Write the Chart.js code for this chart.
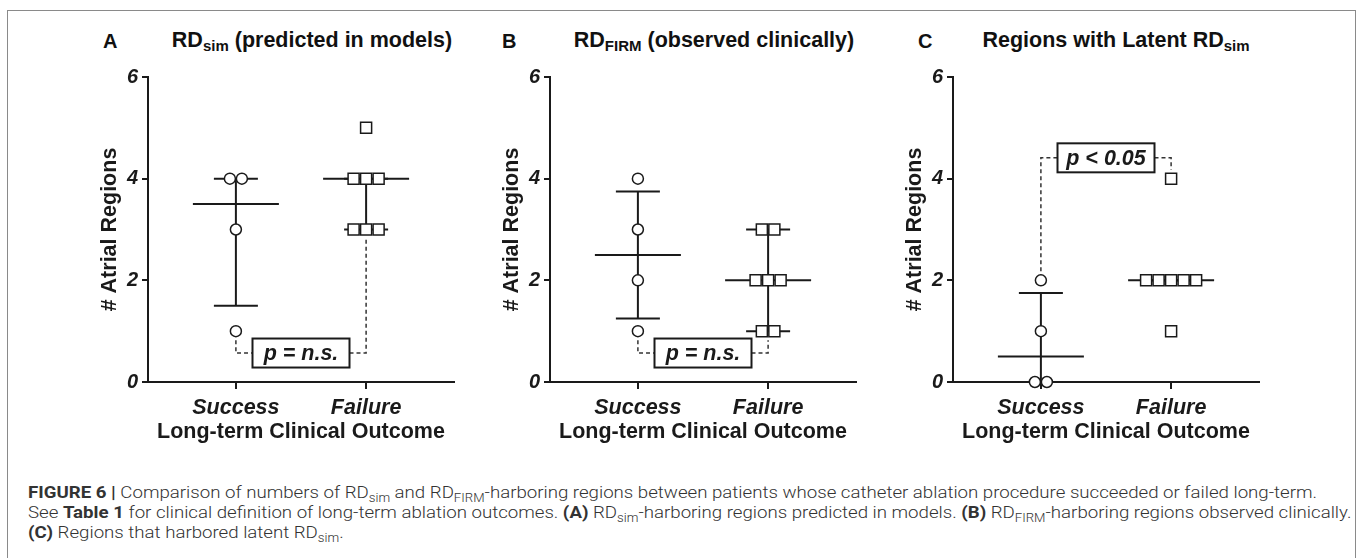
<!DOCTYPE html>
<html>
<head>
<meta charset="utf-8">
<script src="https://cdn.jsdelivr.net/npm/chart.js@4.4.1/dist/chart.umd.min.js"></script>
<style>
  body { margin:0; width:1357px; height:558px; background:#fff; position:relative; overflow:hidden; font-family:"Liberation Sans", Arial, sans-serif; }
  .frame { position:absolute; left:7px; top:10px; width:1349px; height:600px; border:1px solid #8a8a8a; box-sizing:border-box; }
  .panel { position:absolute; top:57px; }
  .letter { position:absolute; top:31px; font:bold 20px/20px "Liberation Sans", Arial, sans-serif; color:#111; }
  .title { position:absolute; top:30px; font:bold 21.5px/21.5px "Liberation Sans", Arial, sans-serif; color:#111; transform:translateX(-50%); white-space:nowrap; }
  .title sub { font-size:15px; vertical-align:-4px; line-height:0; }
  .caption { position:absolute; left:28px; top:482px; font:300 17px/20px Roboto, "Liberation Sans", sans-serif; color:#333; white-space:nowrap; transform-origin:0 0; }
  .caption span { display:inline-block; }
  .caption b { font-weight:700; }
  .caption sub { font-size:12px; vertical-align:-4px; line-height:0; }
</style>
</head>
<body>
<div class="frame"></div>

<div class="letter" style="left:103px">A</div>
<div class="title" style="left:312px">RD<sub>sim</sub> (predicted in models)</div>
<div class="letter" style="left:502px">B</div>
<div class="title" style="left:714px">RD<sub>FIRM</sub> (observed clinically)</div>
<div class="letter" style="left:918px">C</div>
<div class="title" style="left:1116px">Regions with Latent RD<sub>sim</sub></div>

<canvas class="panel" id="panelA" width="376" height="395" style="left:88px"></canvas>
<canvas class="panel" id="panelB" width="376" height="395" style="left:490px"></canvas>
<canvas class="panel" id="panelC" width="376" height="395" style="left:893px"></canvas>

<div class="caption" id="caption"><span id="capLine1"><b>FIGURE 6 |</b> Comparison of numbers of RD<sub>sim</sub> and RD<sub>FIRM</sub>-harboring regions between patients whose catheter ablation procedure succeeded or failed long-term.</span><br><span>See <b>Table 1</b> for clinical definition of long-term ablation outcomes. <b>(A)</b> RD<sub>sim</sub>-harboring regions predicted in models. <b>(B)</b> RD<sub>FIRM</sub>-harboring regions observed clinically.</span><br><span><b>(C)</b> Regions that harbored latent RD<sub>sim</sub>.</span></div>

<script>
// ===== DATA =====
const categories = ['Success', 'Failure'];
const yTicks = [0, 2, 4, 6];

// A: RDsim predicted in models
const simSuccess = [4, 4, 3, 1];
const simFailure = [5, 4, 4, 4, 3, 3, 3];
const simMedian = [3.5, 4];
const simQ1 = [1.5, 3];
const simQ3 = [4, 4];

// B: RDFIRM observed clinically
const firmSuccess = [4, 3, 2, 1];
const firmFailure = [3, 3, 2, 2, 2, 1, 1];
const firmMedian = [2.5, 2];
const firmQ1 = [1.25, 1];
const firmQ3 = [3.75, 3];

// C: regions with latent RDsim
const latentSuccess = [2, 1, 0, 0];
const latentFailure = [4, 2, 2, 2, 2, 2, 1];
const latentMedian = [0.5, 2];
const latentQ1 = [0, 2];
const latentQ3 = [1.75, 2];

const pLabels = ['p = n.s.', 'p = n.s.', 'p < 0.05'];
const bracketLevels = [0.57, 0.57, 4.41];

const INK = '#1a1a1a';
const FAMILY = '"Liberation Sans", Arial, sans-serif';
const tickFont = { family: FAMILY, size: 20, weight: 'bold', style: 'italic' };
const catFont = { family: FAMILY, size: 21.5, weight: 'bold', style: 'italic' };
const bold = { family: FAMILY, size: 21.5, weight: 'bold' };

// caption is set in a narrower font than the original: stretch it to the same line length
function fitCaption() {
  const cap = document.getElementById('caption');
  cap.style.transform = 'none';
  const w = document.getElementById('capLine1').getBoundingClientRect().width;
  if (w > 0) cap.style.transform = 'scaleX(' + (1289 / w) + ')';
}
fitCaption();
if (document.fonts) document.fonts.ready.then(fitCaption);

// spread equal values side by side (Prism-style scatter)
function spread(values, cat, step) {
  const counts = {}, seen = {};
  values.forEach(v => { counts[v] = (counts[v] || 0) + 1; });
  return values.map(v => {
    seen[v] = seen[v] === undefined ? 0 : seen[v] + 1;
    return { x: cat + (seen[v] - (counts[v] - 1) / 2) * step, y: v };
  });
}

// median + interquartile bars behind the points, dashed p-value bracket on top
const statsPlugin = {
  id: 'stats',
  beforeDatasetsDraw(chart, args, o) {
    const { ctx, scales: { x, y } } = chart;
    ctx.save();
    ctx.strokeStyle = INK; ctx.lineWidth = 2;
    const h = (cx, v, w) => { const py = y.getPixelForValue(v); ctx.beginPath(); ctx.moveTo(cx - w, py); ctx.lineTo(cx + w, py); ctx.stroke(); };
    o.median.forEach((m, i) => {
      const cx = x.getPixelForValue(i + 1);
      h(cx, m, 43); h(cx, o.q1[i], 22); h(cx, o.q3[i], 22);
      ctx.beginPath(); ctx.moveTo(cx, y.getPixelForValue(o.q1[i])); ctx.lineTo(cx, y.getPixelForValue(o.q3[i])); ctx.stroke();
    });
    ctx.restore();
  },
  afterDatasetsDraw(chart, args, o) {
    const { ctx, scales: { x, y } } = chart;
    const ly = y.getPixelForValue(o.level);
    const x1 = x.getPixelForValue(1), x2 = x.getPixelForValue(2);
    const mid = (x1 + x2) / 2, bw = 97, bh = 29;
    const ends = chart.data.datasets.map(ds => {
      const vals = ds.data.map(p => p.y);
      const below = o.level < Math.min(...vals);
      const v = below ? Math.min(...vals) : Math.max(...vals);
      return y.getPixelForValue(v) + (below ? 1 : -1) * 9;
    });
    ctx.save();
    ctx.strokeStyle = '#333'; ctx.lineWidth = 1.5; ctx.setLineDash([4, 3]);
    ctx.beginPath();
    ctx.moveTo(x1, ends[0]); ctx.lineTo(x1, ly); ctx.lineTo(mid - bw / 2, ly);
    ctx.moveTo(mid + bw / 2, ly); ctx.lineTo(x2, ly); ctx.lineTo(x2, ends[1]);
    ctx.stroke();
    ctx.setLineDash([]);
    ctx.fillStyle = '#fff'; ctx.strokeStyle = INK; ctx.lineWidth = 2;
    ctx.fillRect(mid - bw / 2, ly - bh / 2, bw, bh);
    ctx.strokeRect(mid - bw / 2, ly - bh / 2, bw, bh);
    ctx.fillStyle = INK; ctx.font = 'italic bold 21.5px ' + FAMILY;
    ctx.textAlign = 'center'; ctx.textBaseline = 'middle';
    ctx.fillText(o.label, mid, ly + 1);
    ctx.restore();
  }
};

function makePanel(id, success, failure, median, q1, q3, label, level) {
  new Chart(document.getElementById(id), {
    type: 'scatter',
    data: {
      datasets: [
        { data: spread(success, 1, 0.092), pointStyle: 'circle', pointRadius: 5.5, backgroundColor: '#fff', borderColor: INK, borderWidth: 1.5, clip: false },
        { data: spread(failure, 2, 0.096), pointStyle: 'rect', pointRadius: 7.8, backgroundColor: '#fff', borderColor: INK, borderWidth: 1.5, clip: false }
      ]
    },
    options: {
      responsive: false, animation: false, events: [],
      layout: { padding: { top: 20, right: 10, left: 0, bottom: 0 } },
      plugins: {
        legend: { display: false }, tooltip: { enabled: false },
        stats: { median, q1, q3, label, level }
      },
      scales: {
        x: {
          type: 'linear', min: 0.325, max: 2.675,
          afterBuildTicks: s => { s.ticks = categories.map((c, i) => ({ value: i + 1 })); },
          afterFit: s => { s.height = 70; },
          grid: { drawOnChartArea: false, drawTicks: true, tickLength: 7, color: INK, lineWidth: 2 },
          border: { display: true, color: INK, width: 2 },
          ticks: { callback: (v, i) => categories[i], font: catFont, color: INK, padding: 6, maxRotation: 0 },
          title: { display: true, text: 'Long-term Clinical Outcome', font: bold, color: INK, padding: { top: 0, bottom: 7 } }
        },
        y: {
          min: 0, max: 6,
          afterBuildTicks: s => { s.ticks = yTicks.map(v => ({ value: v })); },
          afterFit: s => { s.width = 60; },
          grid: { drawOnChartArea: false, drawTicks: true, tickLength: 6, color: INK, lineWidth: 2 },
          border: { display: true, color: INK, width: 2 },
          ticks: { font: tickFont, color: INK, padding: 4 },
          title: { display: true, text: '# Atrial Regions', font: bold, color: INK, padding: { top: 9, bottom: 0 } }
        }
      }
    },
    plugins: [statsPlugin]
  });
}

makePanel('panelA', simSuccess, simFailure, simMedian, simQ1, simQ3, pLabels[0], bracketLevels[0]);
makePanel('panelB', firmSuccess, firmFailure, firmMedian, firmQ1, firmQ3, pLabels[1], bracketLevels[1]);
makePanel('panelC', latentSuccess, latentFailure, latentMedian, latentQ1, latentQ3, pLabels[2], bracketLevels[2]);
</script>
</body>
</html>
